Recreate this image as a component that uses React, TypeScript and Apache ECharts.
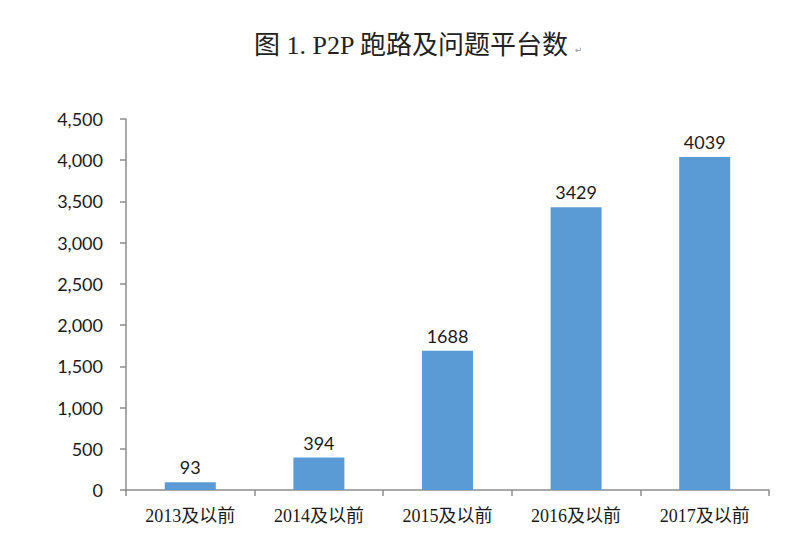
import React, { useEffect, useRef } from "react";
import * as echarts from "echarts";

const categories = ["2013及以前", "2014及以前", "2015及以前", "2016及以前", "2017及以前"];
const values = [93, 394, 1688, 3429, 4039];
const titleText = "图 1. P2P 跑路及问题平台数";

export default function App() {
  const ref = useRef<HTMLDivElement>(null);
  useEffect(() => {
    if (!ref.current) return;
    const chart = echarts.init(ref.current, undefined, { renderer: "svg" });
    chart.setOption({
      animation: false,
      backgroundColor: "#ffffff",
      title: {
        text: "{a|" + titleText + "}{b|  ↵}",
        left: 249,
        top: 27,
        textStyle: {
          fontWeight: "normal",
          rich: {
            a: { fontFamily: "'Liberation Serif', 'Noto Sans CJK SC', serif", fontSize: 26, fontWeight: "normal", color: "#222" },
            b: { fontFamily: "'DejaVu Sans', sans-serif", fontSize: 9, color: "#999", padding: [9, 0, 0, 0] },
          },
        },
      },
      grid: { left: 126, right: 31, top: 119, bottom: 56 },
      xAxis: {
        type: "category",
        data: categories,
        axisLine: { lineStyle: { color: "#8c8c8c", width: 1.5 } },
        axisTick: { show: true, length: 6, alignWithLabel: false, lineStyle: { color: "#8c8c8c", width: 1.5 } },
        axisLabel: {
          fontFamily: "'Liberation Serif', 'Noto Sans CJK SC', serif",
          fontSize: 18,
          color: "#1a1a1a",
          margin: 17,
        },
      },
      yAxis: {
        type: "value",
        min: 0,
        max: 4500,
        interval: 500,
        splitLine: { show: false },
        axisLine: { show: true, lineStyle: { color: "#8c8c8c", width: 1.5 } },
        axisTick: { show: true, length: 6, lineStyle: { color: "#8c8c8c", width: 1.5 } },
        axisLabel: {
          fontFamily: "Lato, 'Open Sans', sans-serif",
          fontSize: 18,
          color: "#1a1a1a",
          margin: 23,
          formatter: (v: number) => v.toLocaleString("en-US"),
        },
      },
      series: [
        {
          type: "bar",
          data: values,
          barWidth: 51,
          itemStyle: { color: "#5b9bd5" },
          label: {
            show: true,
            position: "top",
            distance: 6,
            fontFamily: "Lato, 'Open Sans', sans-serif",
            fontSize: 18,
            color: "#1a1a1a",
          },
        },
      ],
    });
    return () => chart.dispose();
  }, []);
  return <div ref={ref} style={{ width: 800, height: 546, margin: -8 }} />;
}
